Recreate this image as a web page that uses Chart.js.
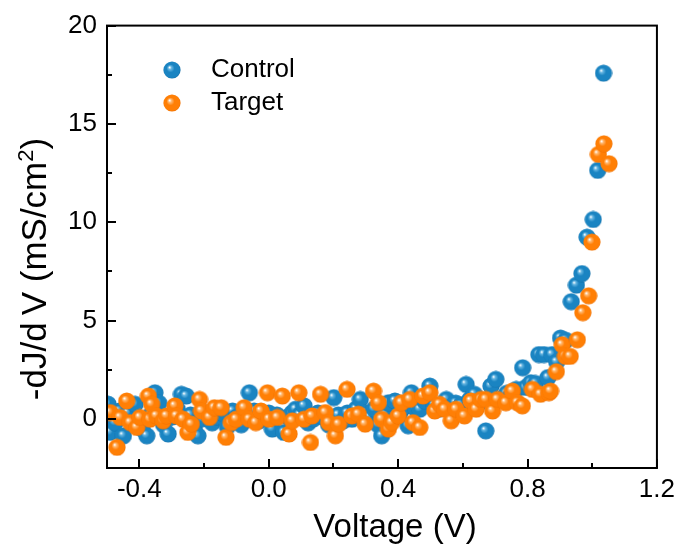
<!DOCTYPE html>
<html>
<head>
<meta charset="utf-8">
<script src="https://cdn.jsdelivr.net/npm/chart.js@4/dist/chart.umd.min.js"></script>
<style>
html,body{margin:0;padding:0;background:#fff;}
#wrap{width:681px;height:548px;position:relative;}
</style>
</head>
<body>
<div id="wrap"><canvas id="c" width="681" height="548"></canvas></div>
<script>
// ---- data ----
const controlV = [-0.497,-0.490,-0.475,-0.462,-0.449,-0.435,-0.413,-0.405,-0.392,-0.377,-0.365,-0.352,-0.340,-0.325,-0.311,-0.298,-0.283,-0.270,-0.255,-0.242,-0.230,-0.219,-0.205,-0.190,-0.175,-0.160,-0.145,-0.128,-0.112,-0.098,-0.085,-0.072,-0.060,-0.045,-0.030,-0.015,0.000,0.011,0.025,0.047,0.060,0.072,0.083,0.096,0.109,0.122,0.138,0.152,0.168,0.185,0.201,0.215,0.230,0.243,0.257,0.270,0.283,0.298,0.312,0.326,0.338,0.349,0.360,0.370,0.390,0.405,0.418,0.431,0.441,0.455,0.467,0.482,0.498,0.512,0.528,0.549,0.562,0.578,0.594,0.610,0.622,0.636,0.650,0.671,0.687,0.702,0.718,0.735,0.750,0.765,0.785,0.795,0.810,0.825,0.835,0.851,0.863,0.876,0.890,0.902,0.918,0.935,0.951,0.968,0.984,1.003,1.017,1.035];
const controlY = [0.75,-0.69,-0.2,0.4,-0.86,0.3,0.74,-0.3,-0.5,-0.86,0.2,1.33,0.8,-0.3,-0.77,0.1,0.5,1.25,1.16,0.2,-0.5,-0.86,0.0,0.3,-0.2,0.1,0.3,-0.4,0.40,0.1,-0.3,0.2,1.33,0.4,-0.1,0.1,0.3,-0.52,0.2,-0.69,0.1,0.3,0.49,0.2,0.66,-0.2,0.0,0.3,0.1,-0.3,1.08,0.2,-0.1,0.3,-0.02,0.5,0.99,0.3,0.1,0.5,-0.3,-0.86,0.2,0.82,0.91,0.3,0.6,-0.35,1.33,0.5,0.49,0.9,1.67,0.7,0.5,0.99,0.6,0.8,0.7,1.75,1.0,1.25,0.8,-0.61,1.67,2.01,1.0,1.3,1.2,1.5,2.6,1.6,1.84,1.8,3.27,3.27,2.1,3.27,2.9,4.11,4.0,5.96,6.80,7.39,9.24,10.14,12.64,17.58];
const targetV = [-0.490,-0.469,-0.459,-0.439,-0.428,-0.408,-0.398,-0.372,-0.367,-0.362,-0.347,-0.326,-0.316,-0.290,-0.285,-0.265,-0.250,-0.239,-0.214,-0.208,-0.183,-0.168,-0.147,-0.132,-0.116,-0.101,-0.076,-0.060,-0.040,-0.024,-0.004,0.001,0.027,0.042,0.063,0.073,0.093,0.109,0.129,0.134,0.160,0.175,0.185,0.206,0.216,0.242,0.257,0.277,0.298,0.324,0.339,0.349,0.370,0.380,0.400,0.410,0.436,0.446,0.467,0.477,0.498,0.513,0.528,0.544,0.564,0.579,0.605,0.625,0.641,0.656,0.671,0.692,0.707,0.733,0.753,0.769,0.784,0.815,0.840,0.866,0.871,0.889,0.907,0.917,0.932,0.954,0.971,0.989,0.999,1.019,1.036,1.052];
const targetY = [0.32,-1.45,0.07,0.91,-0.19,-0.44,0.07,1.16,-0.02,0.74,0.15,-0.10,0.15,0.66,0.15,-0.02,-0.69,-0.27,0.99,0.40,0.07,0.57,0.57,-0.94,-0.19,-0.02,0.57,-0.02,-0.19,0.40,1.33,-0.02,0.07,1.16,-0.77,-0.10,1.33,-0.02,-1.20,0.15,1.25,0.32,-0.19,-0.86,-0.27,1.50,0.15,0.24,-0.27,1.41,0.82,-0.02,-0.52,-0.19,0.15,0.82,0.99,-0.19,-0.44,1.16,1.33,0.40,0.74,0.49,-0.10,0.49,0.15,0.91,0.49,0.99,0.99,0.40,0.99,0.82,1.41,0.82,0.66,1.50,1.25,1.33,1.41,2.40,3.77,3.18,3.18,4.02,5.40,6.26,8.99,13.45,13.99,12.98];
const seriesNames = ['Control','Target'];
const xTicks = [-0.4,0.0,0.4,0.8,1.2];
const xTickLabels = ['-0.4','0.0','0.4','0.8','1.2'];
const xMinorTicks = [-0.2,0.2,0.6,1.0];
const yTicks = [0,5,10,15,20];
const yTickLabels = ['0','5','10','15','20'];
const yMinorTicks = [2.5,7.5,12.5,17.5];
const xTitle = 'Voltage (V)';

// ---- styling ----
const FONT = '"Liberation Sans", Arial, sans-serif';
const BLUE = ['#ffffff','#66b6e2','#1a84c2','#10679e'];
const ORANGE = ['#ffffff','#ffb870','#ff7f05','#e86a00'];
function sphere(c){
  const s = 18, cv = document.createElement('canvas');
  cv.width = s; cv.height = s;
  const x = cv.getContext('2d');
  const g = x.createRadialGradient(6.5,6.3,0.3,9,9,9.1);
  g.addColorStop(0,c[0]); g.addColorStop(0.16,c[1]); g.addColorStop(0.42,c[2]); g.addColorStop(0.85,c[2]); g.addColorStop(1,c[3]);
  x.fillStyle = g; x.beginPath(); x.arc(9,9,8.6,0,Math.PI*2); x.fill();
  return cv;
}
const blueBall = sphere(BLUE), orangeBall = sphere(ORANGE);

const pts = (xs, ys) => xs.map((v,i)=>({x:v,y:ys[i]}));

const decor = {
  id:'decor',
  afterDraw(chart){
    const ctx = chart.ctx, a = chart.chartArea, xs = chart.scales.x, ys = chart.scales.y;
    ctx.save();
    ctx.strokeStyle = '#000'; ctx.lineWidth = 2;
    ctx.strokeRect(a.left, a.top, a.right-a.left, a.bottom-a.top);
    ctx.beginPath();
    xTicks.forEach(v=>{const p=Math.round(xs.getPixelForValue(v)); ctx.moveTo(p,a.bottom); ctx.lineTo(p,a.bottom-9);});
    xMinorTicks.forEach(v=>{const p=Math.round(xs.getPixelForValue(v)); ctx.moveTo(p,a.bottom); ctx.lineTo(p,a.bottom-5);});
    yTicks.forEach(v=>{const p=Math.round(ys.getPixelForValue(v)); ctx.moveTo(a.left,p); ctx.lineTo(a.left+9,p);});
    yMinorTicks.forEach(v=>{const p=Math.round(ys.getPixelForValue(v)); ctx.moveTo(a.left,p); ctx.lineTo(a.left+5,p);});
    ctx.stroke();
    // legend
    ctx.drawImage(blueBall, 172-9, 70-9);
    ctx.drawImage(orangeBall, 172-9, 103-9);
    ctx.fillStyle = '#000';
    ctx.font = '26px ' + FONT; ctx.textBaseline = 'middle'; ctx.textAlign = 'left';
    ctx.fillText(seriesNames[0], 211, 70);
    ctx.fillText(seriesNames[1], 211, 103);
    // x title
    ctx.font = '33px ' + FONT; ctx.textBaseline = 'alphabetic'; ctx.textAlign = 'center';
    ctx.fillText(xTitle, 395, 537);
    // y title (rotated, with superscript)
    const F = 35;
    const parts = [['-dJ/d',F,0],['\u2009V',F,0],[' (mS/cm',F,0],['2',Math.round(F*0.62),-Math.round(F*0.38)],[')',F,0]];
    let total = 0;
    parts.forEach(p=>{ctx.font = p[1]+'px '+FONT; total += ctx.measureText(p[0]).width;});
    ctx.translate(46, 269); ctx.rotate(-Math.PI/2);
    ctx.textAlign = 'left';
    let cx = -total/2;
    parts.forEach(p=>{ctx.font = p[1]+'px '+FONT; ctx.fillText(p[0], cx, p[2]); cx += ctx.measureText(p[0]).width;});
    ctx.restore();
  }
};

new Chart(document.getElementById('c'), {
  type:'scatter',
  data:{datasets:[
    {label:seriesNames[1], data:pts(targetV,targetY), pointStyle:orangeBall, pointRadius:9, clip:0},
    {label:seriesNames[0], data:pts(controlV,controlY), pointStyle:blueBall, pointRadius:9, clip:0}
  ]},
  options:{
    responsive:false, animation:false, devicePixelRatio:1,
    layout:{padding:{left:0,top:22,right:22,bottom:0}},
    plugins:{legend:{display:false}, tooltip:{enabled:false}},
    scales:{
      x:{type:'linear', min:-0.5, max:1.2,
        afterBuildTicks(s){s.ticks = xTicks.map(v=>({value:v}));},
        ticks:{callback:(v,i)=>xTickLabels[i], color:'#000', font:{family:FONT,size:26}, padding:6, maxRotation:0, autoSkip:false},
        grid:{display:false, drawTicks:false}, border:{display:false},
        afterFit(s){s.height = 80;}},
      y:{type:'linear', min:-2.5, max:20,
        afterBuildTicks(s){s.ticks = yTicks.map(v=>({value:v}));},
        ticks:{callback:(v,i)=>yTickLabels[i], color:'#000', font:{family:FONT,size:26}, padding:10, autoSkip:false},
        grid:{display:false, drawTicks:false}, border:{display:false},
        afterFit(s){s.width = 107;}}
    }
  },
  plugins:[decor]
});
</script>
</body>
</html>
